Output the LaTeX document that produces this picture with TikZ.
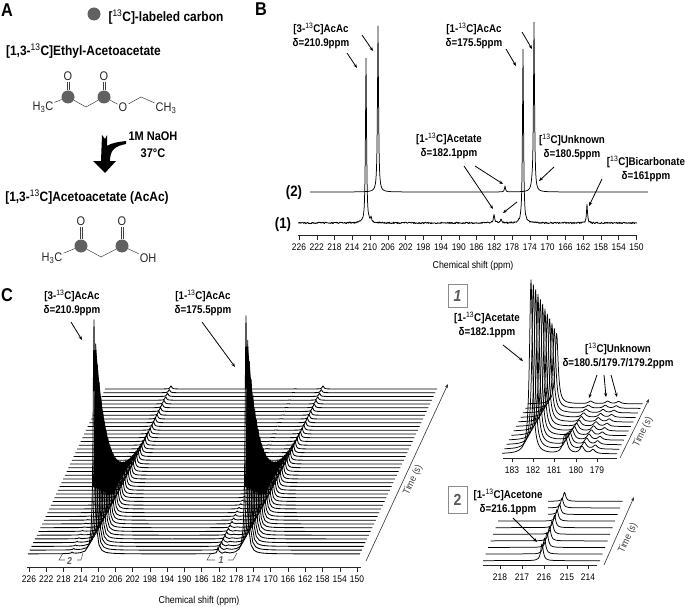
\documentclass[tikz,border=0pt]{standalone}
\usepackage{fontspec}
\setmainfont[FakeStretch=0.88]{Liberation Sans}
\usepackage{tikz}
\usetikzlibrary{arrows.meta,positioning}

\newcommand{\cth}{\textsuperscript{\fontseries{m}\selectfont 13}C}
% sample points along one trace, dense where the peaks sit
\newcommand{\cxs}{28,60,68,71,71.5,72,72.5,73,76,80,85,89,91,92,92.5,93,93.5,94,94.5,95,95.5,96,97,99,102,105,108,112,116,122,130,145,165,190,205,212,216,217,217.5,218,218.5,219,222,224.5,225,225.5,230,235,239,241,243,244,244.5,245,245.5,246,246.5,247,247.5,248,249,251,254,257,260,264,268,274,282,297,320,360}
\newcommand{\dxs}{,531,534,536,538,539,540,540.5,541,541.5,542,542.5,543,543.5,544,545,546,548,550,553,558,566,580,600}

\begin{document}
\begin{tikzpicture}
  [
    x=1pt,y=-1pt,
    declare function={lor(\d,\h,\w)=\h/(1+(min(abs(\d),60)/\w)^2);},
    panel/.style={font=\fontsize{18.5}{18}\selectfont\bfseries,inner sep=0pt},
    titlelabel/.style={font=\fontsize{13.6}{16}\selectfont\bfseries,align=center,inner sep=0pt},
    peaklabel/.style={font=\fontsize{11.1}{14}\selectfont\bfseries,align=center,inner sep=0pt},
    tracename/.style={font=\fontsize{15}{15}\selectfont\bfseries,inner sep=0pt},
    ticklab/.style={font=\fontsize{9.6}{10}\selectfont,inner sep=0pt},
    axislab/.style={font=\fontsize{10}{10}\selectfont,inner sep=0pt},
    carbon/.style={circle,fill=black!62,inner sep=0pt,minimum size=13pt},
    atom/.style={font=\fontsize{12.5}{12}\selectfont,inner sep=1pt,text=black!85},
    bond/.style={draw=black!75,line width=0.5pt},
    tracepen/.style={line width=0.85pt,line join=round},
    thinpen/.style={line width=0.75pt,line join=round},
    axisline/.style={line width=0.5pt,black!85},
    callout/.style={line width=0.8pt,-{Stealth[length=4pt,width=3.2pt]}},
    timearrow/.style={line width=0.6pt,black!80,-{Stealth[length=4pt,width=3pt]}},
    timelab/.style={font=\fontsize{10}{10}\selectfont,text=black!75,inner sep=0pt},
    insetbox/.style={rectangle,draw=black!45,line width=0.8pt,fill=white,font=\fontsize{16}{14}\selectfont\bfseries,text=black!65,inner sep=0pt},
    brace/.style={line width=0.6pt,black!65},
    rangelab/.style={font=\fontsize{10}{9}\selectfont\bfseries\itshape,text=black!65,inner sep=0pt}
  ]
  \useasboundingbox (0,0) rectangle (685,607);

  % A
  \node[panel] at (7,10) (label A) {A};
  \node[carbon] at (94,14) (legend dot) {};
  \node[titlelabel] at (166,17) (legend) {[\cth]-labeled carbon};
  \node[titlelabel] at (83.5,51) (ethyl name) {[1,3-\cth]Ethyl-Acetoacetate};

  \node[atom] at (43,107) (ethyl h3c) {H\textsubscript{3}C};
  \node[carbon] at (68,97) (ethyl c3) {};
  \coordinate (ethyl ch2) at (86,107);
  \node[carbon] at (104,97) (ethyl c1) {};
  \node[atom] at (123,107) (ethyl o) {O};
  \coordinate (ethyl ch2b) at (141,97);
  \node[atom] at (166,108) (ethyl ch3) {CH\textsubscript{3}};
  \node[atom] at (68,76) (ethyl o3) {O};
  \node[atom] at (104,76) (ethyl o1) {O};
  \draw[bond] (ethyl h3c) -- (ethyl c3) -- (ethyl ch2) -- (ethyl c1) -- (ethyl o) -- (ethyl ch2b) -- (ethyl ch3);
  \foreach \s in {-1.2,1.2} {
    \draw[bond] ([xshift=\s pt]ethyl c3.north) -- ([xshift=\s pt]ethyl o3.south);
    \draw[bond] ([xshift=\s pt]ethyl c1.north) -- ([xshift=\s pt]ethyl o1.south);
  }

  \fill (102,135) -- (105,139) -- (107,135) -- (107,146) .. controls (111,143) and (118,142) .. (126,141) -- (126,144) .. controls (116,146) and (110,149) .. (110,161) -- (116,161) -- (105,173) -- (93,161) -- (101,161) -- cycle;
  \node[titlelabel,font=\fontsize{12.5}{16.5}\selectfont\bfseries] at (153,144.5) (reagent) {1M NaOH\\37°C};
  \node[titlelabel] at (87,197) (acac name) {[1,3-\cth]Acetoacetate (AcAc)};

  \node[atom] at (52,258) (acac h3c) {H\textsubscript{3}C};
  \node[carbon] at (81,246) (acac c3) {};
  \coordinate (acac ch2) at (101,257);
  \node[carbon] at (122,246) (acac c1) {};
  \node[atom] at (148,258) (acac oh) {OH};
  \node[atom] at (81,221) (acac o3) {O};
  \node[atom] at (122,221) (acac o1) {O};
  \draw[bond] (acac h3c) -- (acac c3) -- (acac ch2) -- (acac c1) -- (acac oh);
  \foreach \s in {-1.2,1.2} {
    \draw[bond] ([xshift=\s pt]acac c3.north) -- ([xshift=\s pt]acac o3.south);
    \draw[bond] ([xshift=\s pt]acac c1.north) -- ([xshift=\s pt]acac o1.south);
  }

  % B
  \node[panel] at (261,9) (label B) {B};
  \pgfmathsetseed{13}
  \draw[thinpen] plot[domain=298:637,samples=679,variable=\x] (\x,{223+0.8*rand-lor(\x-366,165,.6)-lor(\x-371,4,.8)-lor(\x-523,174,.6)-lor(\x-494,8,.8)-lor(\x-501,4,.8)-lor(\x-587,19,.6)});
  \draw[thinpen] plot[domain=310:648,samples=677,variable=\x] (\x,{192-lor(\x-378,166,.6)-lor(\x-534,169,.6)-lor(\x-505,6,.6)-lor(\x-532,4,1)});
  \node[tracename] at (294,193) (trace two) {(2)};
  \node[tracename] at (283,225) (trace one) {(1)};
  \draw[axisline] (298,235) -- (637,235);
  \foreach \v in {226,222,...,150} {
    \draw[axisline] ({299+(226-\v)*4.44},235) -- ++(0,5);
    \node[ticklab] at ({299+(226-\v)*4.44},247) (b tick \v) {\v};
  }
  \node[axislab] at (473,266) (b axis) {Chemical shift (ppm)};

  \node[peaklabel] at (321,36) (b acac3) {[3-\cth]AcAc\\δ=210.9ppm};
  \node[peaklabel] at (474,36) (b acac1) {[1-\cth]AcAc\\δ=175.5ppm};
  \node[peaklabel] at (449,146) (b acetate) {[1-\cth]Acetate\\δ=182.1ppm};
  \node[peaklabel] at (572,146.5) (b unknown) {[\cth]Unknown\\δ=180.5ppm};
  \node[peaklabel] at (646,169) (b bicarb) {[\cth]Bicarbonate\\δ=161ppm};
  \foreach \n/\xa/\ya/\xb/\yb in {p/347/53/357/68,q/362/35/373/51,r/506/49/516/66,s/522/32/532/49,t/464/166/493/209,u/475/166/503/184,v/554/167/539/181,w/517/202/503/213,z/602/179/589/206} {
    \coordinate (b \n\space from) at (\xa,\ya);
    \coordinate (b \n\space to) at (\xb,\yb);
    \draw[callout] (b \n\space from) -- (b \n\space to);
  }

  % C
  \node[panel] at (7,295) (label C) {C};
  \foreach \i in {0,...,44} {
    \pgfmathsetmacro\hA{232*exp(-\i/7.8)+2.2}
    \pgfmathsetmacro\hB{236*exp(-\i/7.8)+2.2}
    \pgfmathsetmacro\hC{6*exp(-\i/8)+.2}
    \pgfmathsetmacro\hD{1.5*exp(-\i/8)}
    \draw[tracepen,shift={(1.75*\i,-3.75*\i)}] plot[samples at=\cxs,variable=\x] (\x,{554-lor(\x-94,\hA,1)-lor(\x-246,\hB,1)-lor(\x-218,\hC,.8)-lor(\x-72,\hD,.8)-lor(\x-225,\hD,.8)});
  }
  % solid part under the two decays
  \foreach \dx in {0,152} {
    \fill[shift={(\dx,0)}] plot[domain=1:26,samples=26,variable=\t] ({94+1.75*\t},{554-3.75*\t-232*exp(-\t/7.8)-2}) -- (112,495) -- (93,487) -- cycle;
  }
  \node[peaklabel] at (72,303) (c acac3) {[3-\cth]AcAc\\δ=210.9ppm};
  \node[peaklabel] at (203,303) (c acac1) {[1-\cth]AcAc\\δ=175.5ppm};
  \coordinate (c p from) at (71,322);
  \coordinate (c p to) at (82,340);
  \draw[callout] (c p from) -- (c p to);
  \coordinate (c q from) at (202,322);
  \coordinate (c q to) at (235,367);
  \draw[callout] (c q from) -- (c q to);

  \draw[brace] (63,553) -- (59,560) -- (65,560);
  \draw[brace] (83,553) -- (81,560) -- (77,560);
  \node[rangelab] at (69.5,561) (range 2) {2};
  \draw[brace] (211,553) -- (207,560) -- (215,560);
  \draw[brace] (237,553) -- (233,560) -- (228,560);
  \node[rangelab] at (221,560) (range 1) {1};

  \draw[axisline] (27,567) -- (361,567);
  \foreach \v in {226,222,...,150} {
    \draw[axisline] ({29+(226-\v)*4.316},567) -- ++(0,5);
    \node[ticklab] at ({29+(226-\v)*4.316},579) (c tick \v) {\v};
  }
  \node[axislab] at (199,601) (c axis) {Chemical shift (ppm)};
  \coordinate (c time from) at (366,561);
  \coordinate (c time to) at (448,384);
  \draw[timearrow] (c time from) -- (c time to);
  \node[timelab,rotate=65] at (413,480) (c time) {Time (s)};

  % inset 1
  \node[insetbox,minimum width=19pt,minimum height=23pt] at (457.5,295.5) (box 1) {\itshape 1};
  \foreach \i in {0,...,11} {
    \pgfmathsetmacro\hA{174-9.4*\i}
    \pgfmathsetmacro\hB{19*exp(-\i/5)+.5}
    \pgfmathsetmacro\hC{7-.4*\i}
    \pgfmathsetmacro\hD{4-.15*\i}
    \draw[thinpen,shift={(2.33*\i,-4.55*\i)}] plot[domain=502:617,samples=231,variable=\x] (\x,{454-lor(\x-531,\hA,1.8)-lor(\x-565,\hB,2.5)-lor(\x-582,\hC,2.5)-lor(\x-593,\hD,2.5)});
  }
  \node[peaklabel] at (487,324.5) (in acetate) {[1-\cth]Acetate\\δ=182.1ppm};
  \node[peaklabel] at (618,355.5) (in unknown) {[\cth]Unknown\\δ=180.5/179.7/179.2ppm};
  \foreach \n/\xa/\ya/\xb/\yb in {a/503/345/523/361,b/597/375/589/398,c/604/375/606/397,d/611/375/617/397} {
    \coordinate (in \n\space from) at (\xa,\ya);
    \coordinate (in \n\space to) at (\xb,\yb);
    \draw[callout] (in \n\space from) -- (in \n\space to);
  }
  \draw[axisline] (503,458) -- (617,458);
  \foreach \v/\xv in {183/512,182/533,181/554,180/576,179/597} {
    \draw[axisline] (\xv,458) -- ++(0,4);
    \node[ticklab] at (\xv,470) (in tick \v) {\v};
  }
  \coordinate (in time from) at (620,458);
  \coordinate (in time to) at (649,399);
  \draw[timearrow] (in time from) -- (in time to);
  \node[timelab,rotate=64] at (643,432) (in time) {Time (s)};

  % inset 2
  \node[insetbox,minimum width=19pt,minimum height=27pt] at (457.5,499.5) (box 2) {2};
  \foreach \i/\xl in {0/483,1/483,2/483,3/483,4/483,5/483,6/483,7/530.5,8/528,9/525.5} {
    \pgfmathsetmacro\hA{17-.9*\i}
    \draw[thinpen,shift={(2.5*\i,-6.6*\i)}] plot[samples at={\xl\dxs},variable=\x] (\x,{560.7-lor(\x-542,\hA,1.5)});
  }
  \node[peaklabel] at (508,502) (in acetone) {[1-\cth]Acetone\\δ=216.1ppm};
  \coordinate (in e from) at (513,518);
  \coordinate (in e to) at (537,542);
  \draw[callout] (in e from) -- (in e to);
  \draw[axisline] (483,565) -- (597,565);
  \foreach \v/\xv in {218/500,217/522,216/544,215/567,214/588} {
    \draw[axisline] (\xv,565) -- ++(0,4);
    \node[ticklab] at (\xv,577) (in2 tick \v) {\v};
  }
  \coordinate (in2 time from) at (604,565);
  \coordinate (in2 time to) at (634,497);
  \draw[timearrow] (in2 time from) -- (in2 time to);
  \node[timelab,rotate=65] at (628,538) (in2 time) {Time (s)};
\end{tikzpicture}
\end{document}
